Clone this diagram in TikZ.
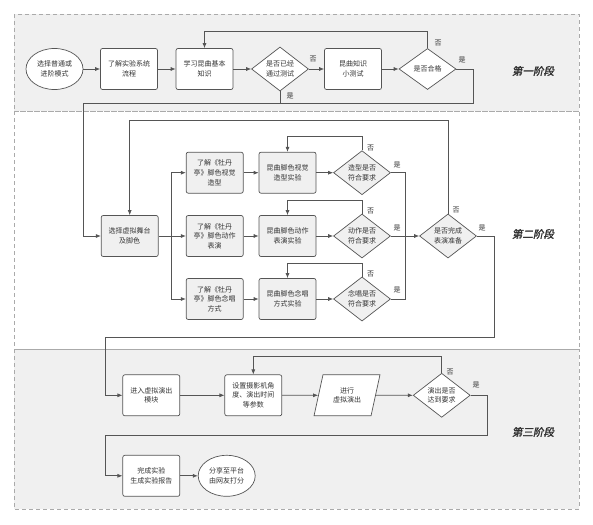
\documentclass[tikz,border=0pt]{standalone}
\usepackage{fontspec}
\setmainfont{Noto Sans CJK SC}
\newfontfamily\stagefont{Noto Sans CJK SC}[FakeSlant=0.2,FakeBold=2]
\usetikzlibrary{shapes.geometric,arrows.meta}
\definecolor{bandgray}{HTML}{F0F0F0}
\definecolor{nodegray}{HTML}{F0F0F0}
\definecolor{linegray}{HTML}{555555}
\definecolor{dashgray}{HTML}{AAAAAA}
\definecolor{txt}{HTML}{333333}
\begin{document}
\begin{tikzpicture}[x=1pt,y=-1pt,
  base/.style={draw=linegray,line width=0.7pt,text=txt,font=\fontsize{7}{9.6}\selectfont,align=center,inner sep=1pt},
  rbox/.style={base,rectangle,rounded corners=2pt,minimum width=57pt,minimum height=41pt},
  ebox/.style={base,ellipse,minimum width=57pt,minimum height=41pt},
  dbox/.style={base,diamond,inner sep=0pt,minimum width=57pt,minimum height=41pt},
  pbox/.style={base,trapezium,trapezium left angle=72,trapezium right angle=108,trapezium stretches=true,minimum width=66pt,minimum height=41pt,inner sep=0pt},
  wf/.style={fill=white},
  gf/.style={fill=nodegray},
  band/.style={draw=dashgray,dashed,line width=0.7pt,dash pattern=on 4pt off 3pt},
  arr/.style={draw=linegray,line width=0.7pt,-{Latex[length=5pt,width=4pt]}},
  ln/.style={draw=linegray,line width=0.7pt},
  lab/.style={text=txt,font=\fontsize{7}{8}\selectfont,inner sep=0pt},
  stage/.style={text=txt,font=\stagefont\fontsize{10.5}{12}\selectfont,inner sep=0pt}]
\useasboundingbox (0,0) rectangle (593,524);
% bands
\fill[bandgray] (14,14) rectangle (579,111);
\fill[bandgray] (14,349) rectangle (579,509);
\draw[band] (14,14) rectangle (579,111);
\draw[band] (14,111) rectangle (579,349);
\draw[band] (14,349) rectangle (579,509);
% stage 1
\node[ebox,wf] (n1) at (54.5,69) {选择普通或\\进阶模式};
\node[rbox,wf] (n2) at (129,69) {了解实验系统\\流程};
\node[rbox,wf] (n3) at (204.5,69) {学习昆曲基本\\知识};
\node[dbox,wf] (d1) at (280,69) {是否已经\\通过测试};
\node[rbox,wf] (n4) at (353,69) {昆曲知识\\小测试};
\node[dbox,wf] (d2) at (427.5,69) {是否合格};
\node[stage] (t1) at (533,71) {第一阶段};
% stage 2
\node[rbox,gf] (s2) at (129.7,236) {选择虚拟舞台\\及脚色};
\node[rbox,gf] (a1) at (214.7,172.7) {了解《牡丹\\亭》脚色视觉\\造型};
\node[rbox,gf] (a2) at (214.7,236) {了解《牡丹\\亭》脚色动作\\表演};
\node[rbox,gf] (a3) at (214.7,299) {了解《牡丹\\亭》脚色念唱\\方式};
\node[rbox,gf] (e1) at (287.5,172.7) {昆曲脚色视觉\\造型实验};
\node[rbox,gf] (e2) at (287.5,236) {昆曲脚色动作\\表演实验};
\node[rbox,gf] (e3) at (287.5,299) {昆曲脚色念唱\\方式实验};
\node[dbox,gf] (q1) at (362,172.7) {造型是否\\符合要求};
\node[dbox,gf] (q2) at (362,236) {动作是否\\符合要求};
\node[dbox,gf] (q3) at (362,299) {念唱是否\\符合要求};
\node[dbox,gf] (dd) at (448,236) {是否完成\\表演准备};
\node[stage] (t2) at (533,234) {第二阶段};
% stage 3
\node[rbox,wf] (b1) at (151.3,395.3) {进入虚拟演出\\模块};
\node[rbox,wf] (b2) at (253.3,395.3) {设置摄影机角\\度、演出时间\\等参数};
\node[pbox,wf] (b3) at (347,395.3) {进行\\虚拟演出};
\node[dbox,wf] (dq) at (441.7,395.3) {演出是否\\达到要求};
\node[rbox,wf] (c1) at (151.3,475.8) {完成实验\\生成实验报告};
\node[ebox,wf] (c2) at (226.7,475.8) {分享至平台\\由网友打分};
\node[stage] (t3) at (533,432) {第三阶段};
% connectors stage 1
\draw[arr] (n1) -- (n2);
\draw[arr] (n2) -- (n3);
\draw[arr] (n3) -- (d1);
\draw[arr] (d1) -- (n4);
\draw[arr] (n4) -- (d2);
\draw[arr] (d2.north) -- (427.5,31) -| (n3.north);
\draw[arr] (d2.east) -- (473,69) -- (473,103) -- (83,103) -- (83,236) -- (s2.west);
\draw[ln] (d1.south) -- (280,103);
\node[lab] at (313,59) {否};
\node[lab] at (438,43) {否};
\node[lab] at (462,60) {是};
\node[lab] at (290,96) {是};
% connectors stage 2
\draw[ln] (s2.east) -- (171.7,236);
\draw[arr] (171.7,236) |- (a1.west);
\draw[arr] (171.7,236) |- (a3.west);
\draw[arr] (171.7,236) -- (a2.west);
\draw[arr] (a1) -- (e1);
\draw[arr] (a2) -- (e2);
\draw[arr] (a3) -- (e3);
\draw[arr] (e1) -- (q1);
\draw[arr] (e2) -- (q2);
\draw[arr] (e3) -- (q3);
\draw[arr] (q1.north) -- ++(0,-13.5) -| (e1.north);
\draw[arr] (q2.north) -- ++(0,-13.5) -| (e2.north);
\draw[arr] (q3.north) -- ++(0,-13.5) -| (e3.north);
\draw[ln] (q1.east) -- (405,172.7) -- (405,299) -- (q3.east);
\draw[arr] (q2.east) -- (dd.west);
\draw[arr] (dd.north) -- (448,120.7) -| (s2.north);
\draw[arr] (dd.east) -- (494,236) -- (494,337.3) -- (105,337.3) -- (105,395.3) -- (b1.west);
\node[lab] at (370.7,148) {否};
\node[lab] at (370.7,211) {否};
\node[lab] at (370.7,274) {否};
\node[lab] at (397,165) {是};
\node[lab] at (397,228) {是};
\node[lab] at (397,290) {是};
\node[lab] at (456,210) {否};
\node[lab] at (482,228) {是};
% connectors stage 3
\draw[arr] (b1) -- (b2);
\draw[arr] (b2) -- (b3);
\draw[arr] (b3) -- (dq);
\draw[arr] (dq.north) -- (441.7,356.7) -| (b2.north);
\draw[arr] (dq.east) -- (487.7,395.3) -- (487.7,435) -- (105,435) -- (105,475.8) -- (c1.west);
\draw[arr] (c1) -- (c2);
\node[lab] at (450,372) {否};
\node[lab] at (476,385) {是};
\end{tikzpicture}
\end{document}
